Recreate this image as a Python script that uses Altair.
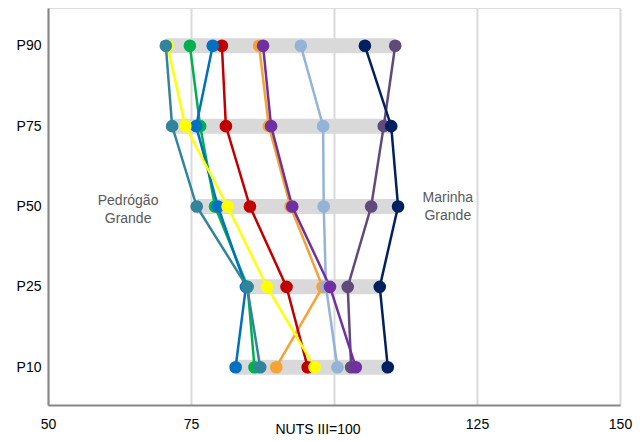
import altair as alt
import pandas as pd

percentiles = ["P90", "P75", "P50", "P25", "P10"]

series = ["Castanheira de Pêra", "Figueiró dos Vinhos", "Ansião", "Porto de Mós", "Alvaiázere",
          "Pombal", "Batalha", "Pedrógão Grande", "Leiria", "Marinha Grande"]
colors = ["#00B050", "#F7A234", "#95B3D7", "#604A7B", "#C00000",
          "#0070C0", "#FFFF00", "#31849B", "#7030A0", "#002060"]

# values per series, order: P90, P75, P50, P25, P10
values = {
    "Castanheira de Pêra": [74.8, 76.6, 79.2, 84.9, 86.1],
    "Figueiró dos Vinhos": [86.9, 88.6, 92.4, 98.0, 89.9],
    "Ansião":              [94.2, 98.1, 98.2, 98.6, 100.6],
    "Porto de Mós":        [110.7, 108.7, 106.5, 102.4, 103.0],
    "Alvaiázere":          [80.4, 81.1, 85.3, 91.7, 95.4],
    "Pombal":              [78.8, 75.9, 79.7, 84.6, 82.8],
    "Batalha":             [70.9, 74.0, 81.4, 88.3, 96.6],
    "Pedrógão Grande":     [70.6, 71.7, 76.0, 84.8, 87.1],
    "Leiria":              [87.6, 89.0, 92.7, 99.3, 103.8],
    "Marinha Grande":      [105.4, 110.0, 111.2, 108.0, 109.4],
}

x_ticks = [50, 75, 100, 125, 150]
annot_text = [["Pedrógão", "Grande"], ["Marinha", "Grande"]]
annot_x = [64.0, 119.9]
annot_dy = [-6, -9]

rows = []
for i, s in enumerate(series):
    for p, v in zip(percentiles, values[s]):
        rows.append({"serie": s, "pct": p, "val": v, "ord": i})
df = pd.DataFrame(rows)

annot = pd.DataFrame({"x": annot_x, "t": annot_text, "pct": ["P50", "P50"], "dy": annot_dy})

FONT = "Liberation Sans"

x_enc = alt.X("val:Q", scale=alt.Scale(domain=[50, 150], nice=False, zero=False),
              axis=alt.Axis(values=x_ticks, title=None, grid=True, gridColor="#D9D9D9", gridWidth=2,
                            domainColor="#868686", domainWidth=2, ticks=False, labelFlush=False,
                            labelExpr="datum.value == 100 ? '' : datum.label",
                            labelFont=FONT, labelFontSize=14, labelColor="#000000",
                            labelPadding=12))
y_enc = alt.Y("pct:N", sort=percentiles,
              scale=alt.Scale(type="point", padding=0.47),
              axis=alt.Axis(title=None, domainColor="#868686", domainWidth=2, ticks=False, grid=False,
                            labelFont=FONT, labelFontSize=14, labelColor="#000000", labelPadding=7))

base = alt.Chart(df)

bands = base.mark_rule(color="#D9D9D9", strokeWidth=15, strokeCap="butt").encode(
    y=y_enc,
    x=alt.X("min(val):Q"),
    x2=alt.X2("max(val):Q"),
)

color_enc = alt.Color("serie:N", scale=alt.Scale(domain=series, range=colors), legend=None)

lines = base.mark_line(strokeWidth=2.5).encode(
    x=x_enc, y=y_enc, color=color_enc, detail="serie:N", order=alt.Order("ord:Q"),
)

points = base.mark_circle(size=160, opacity=1).encode(
    x=x_enc, y=y_enc, color=color_enc, order=alt.Order("ord:Q"),
)

texts = alt.Chart(annot).mark_text(font=FONT, fontSize=14, color="#595959", lineHeight=18,
                                   baseline="middle", align="center").encode(
    x=alt.X("x:Q"), y=alt.Y("pct:N", sort=percentiles), text="t", yOffset=alt.YOffset("dy:Q", scale=None)
)

nuts = alt.Chart(pd.DataFrame({"x": [100], "t": ["NUTS III=100"]})).mark_text(
    font=FONT, fontSize=14, color="#000000", dx=-16, baseline="middle", align="center").encode(
    x=alt.X("x:Q"), y=alt.value(422), text="t"
)

chart = alt.layer(bands, lines, points, texts, nuts).properties(
    width=572, height=397,
    autosize=alt.AutoSizeParams(type="none"),
    padding={"left": 40, "top": 0, "right": 16, "bottom": 36},
).configure_view(stroke=None).configure(background="white")

chart.save("out.html", embed_options={"renderer": "svg", "actions": False})
